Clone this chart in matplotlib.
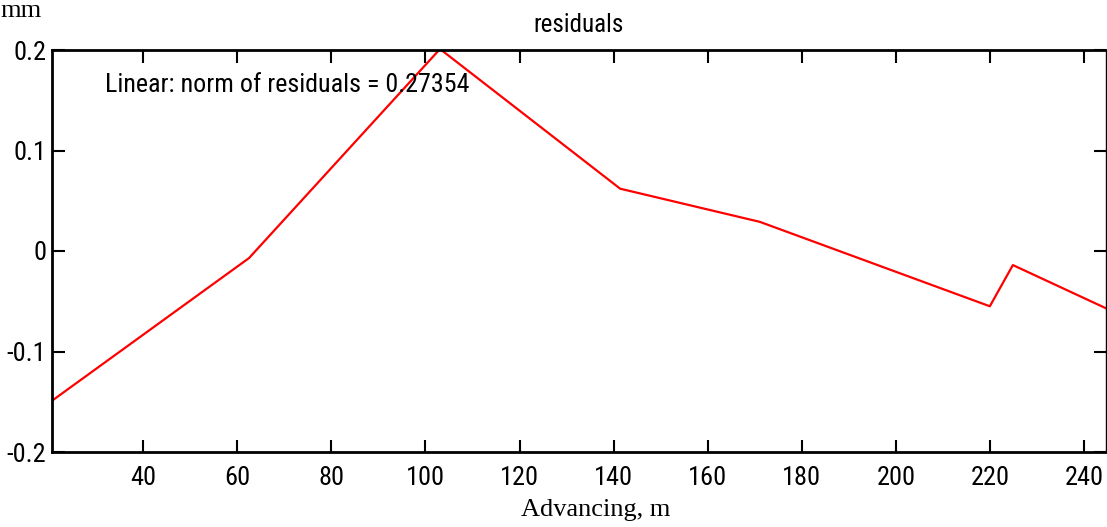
import matplotlib
matplotlib.use("Agg")
import matplotlib.pyplot as plt

advancing = [20.6, 62.5, 103.1, 141.4, 171.1, 220.0, 224.9, 244.7]
residuals = [-0.149, -0.007, 0.201, 0.062, 0.029, -0.055, -0.014, -0.057]
xticks = [40, 60, 80, 100, 120, 140, 160, 180, 200, 220, 240]
yticks = [-0.2, -0.1, 0, 0.1, 0.2]
ytick_labels = ["-0.2", "-0.1", "0", "0.1", "0.2"]

sans = ["Roboto Condensed", "Archivo Narrow", "Liberation Sans"]
serif = ["Liberation Serif", "DejaVu Serif"]

fig = plt.figure(figsize=(11.07, 5.27), dpi=100)
ax = fig.add_axes([52/1107, 1-452/527, (1106-52)/1107, (452-50)/527])
ax.plot(advancing, residuals, color="#ff0000", lw=1.6)
ax.set_xlim(20.6, 244.7)
ax.set_ylim(-0.2, 0.2)
ax.set_xticks(xticks)
ax.set_yticks(yticks)
ax.set_yticklabels(ytick_labels)
ax.tick_params(direction="in", length=9, width=1.5, top=True, right=True,
               labelsize=19)
ax.tick_params(axis="x", pad=10)
ax.tick_params(axis="y", pad=4)
for lab in ax.get_xticklabels() + ax.get_yticklabels():
    lab.set_family(sans)
for side in ["left", "bottom", "top"]:
    ax.spines[side].set_linewidth(2)
ax.spines["right"].set_linewidth(1)
ax.set_title("residuals", family=sans, fontsize=18, pad=13)
ax.text(31.9, 0.165, "Linear: norm of residuals = 0.27354", family=sans,
        fontsize=18.7, ha="left", va="center")
fig.text(0.0, 1-11/527, "mm", family=serif, fontsize=19,
         ha="left", va="center")
fig.text(596/1107, 1-510/527, "Advancing, m", family=serif,
         fontsize=19, ha="center", va="center")
fig.savefig("out.png", dpi=100)
